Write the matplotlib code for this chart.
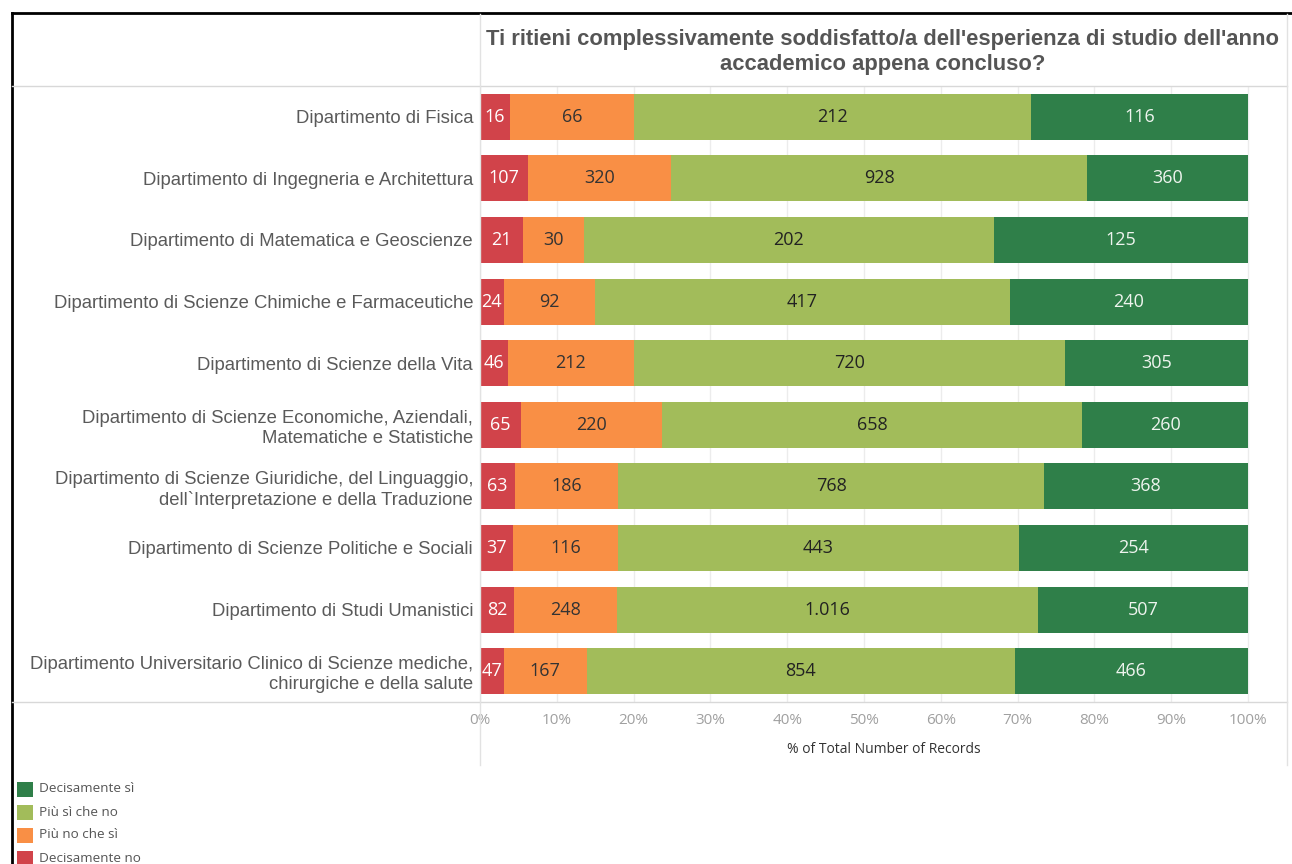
import matplotlib
matplotlib.use('Agg')
import matplotlib.pyplot as plt
from matplotlib.patches import Rectangle
from matplotlib.lines import Line2D
import numpy as np

departments = [
    "Dipartimento di Fisica",
    "Dipartimento di Ingegneria e Architettura",
    "Dipartimento di Matematica e Geoscienze",
    "Dipartimento di Scienze Chimiche e Farmaceutiche",
    "Dipartimento di Scienze della Vita",
    "Dipartimento di Scienze Economiche, Aziendali,\nMatematiche e Statistiche",
    "Dipartimento di Scienze Giuridiche, del Linguaggio,\ndell`Interpretazione e della Traduzione",
    "Dipartimento di Scienze Politiche e Sociali",
    "Dipartimento di Studi Umanistici",
    "Dipartimento Universitario Clinico di Scienze mediche,\nchirurgiche e della salute",
]
decisamente_no = [16, 107, 21, 24, 46, 65, 63, 37, 82, 47]
piu_no_che_si = [66, 320, 30, 92, 212, 220, 186, 116, 248, 167]
piu_si_che_no = [212, 928, 202, 417, 720, 658, 768, 443, 1016, 854]
decisamente_si = [116, 360, 125, 240, 305, 260, 368, 254, 507, 466]

series = [
    ("Decisamente no", decisamente_no, "#d1434a", "white"),
    ("Più no che sì", piu_no_che_si, "#f98f45", "#333333"),
    ("Più sì che no", piu_si_che_no, "#a2bc5a", "#222222"),
    ("Decisamente sì", decisamente_si, "#2f7f49", "#eef4ee"),
]
legend_order = ["Decisamente sì", "Più sì che no", "Più no che sì", "Decisamente no"]
ticks = np.arange(0, 1.01, 0.1)

W, H = 1292, 864
fig = plt.figure(figsize=(W / 100, H / 100), dpi=100)
fig.patch.set_facecolor("white")

def fx(px):
    return px / W

def fy(py):
    return 1 - py / H

ax = fig.add_axes([fx(480), fy(702), fx(1287) - fx(480), fy(86) - fy(702)])
ax.set_facecolor("white")

totals = np.sum([s[1] for s in series], axis=0)
n = len(departments)
y = np.arange(n)
left = np.zeros(n)
for name, vals, col, tcol in series:
    frac = np.array(vals) / totals
    ax.barh(y, frac, left=left, height=0.75, color=col, zorder=3)
    for i in range(n):
        lab = f"{vals[i]:,}".replace(",", ".")
        ax.text(left[i] + frac[i] / 2, y[i], lab, ha="center", va="center",
                fontsize=13, color=tcol, family=["Open Sans", "DejaVu Sans"], zorder=4)
    left += frac

ax.set_ylim(n - 0.5, -0.5)
ax.set_xlim(0, 807 / 768)
ax.set_xticks(ticks)
ax.set_xticklabels([f"{int(round(t * 100))}%" for t in ticks], fontsize=11,
                   color="#a0a0a0", family="Open Sans")
ax.tick_params(axis="x", length=0, pad=8)
ax.set_yticks(y)
ax.set_yticklabels(departments, fontsize=13.3, color="#5a5a5a", family="Liberation Sans",
                   linespacing=1.25)
ax.tick_params(axis="y", length=0, pad=5)
for t in ax.get_yticklabels():
    t.set_horizontalalignment("right")
    t.set_multialignment("right")
ax.grid(axis="x", color="#ececec", lw=1, zorder=0)
for s in ax.spines.values():
    s.set_visible(False)
ax.set_xlabel("% of Total Number of Records", fontsize=10, color="#333333",
              family="Open Sans", labelpad=10)

# frame lines
fig.add_artist(Line2D([fx(12), 1], [fy(13), fy(13)], color="black", lw=2))
fig.add_artist(Line2D([fx(12), fx(12)], [fy(13), 0], color="black", lw=2))
fig.add_artist(Line2D([fx(12), fx(1287)], [fy(86), fy(86)], color="#d8d8d8", lw=1))
fig.add_artist(Line2D([fx(12), fx(1287)], [fy(702), fy(702)], color="#d8d8d8", lw=1))
fig.add_artist(Line2D([fx(480), fx(480)], [fy(14), fy(765)], color="#e2e2e2", lw=1))
fig.add_artist(Line2D([fx(1287), fx(1287)], [fy(14), fy(765)], color="#e2e2e2", lw=1))

fig.text(fx(883), fy(52), "Ti ritieni complessivamente soddisfatto/a dell'esperienza di studio dell'anno\naccademico appena concluso?",
         ha="center", va="center", fontsize=15.8, fontweight="bold", color="#555555",
         family="Liberation Sans", linespacing=1.2)

# legend
colors = {s[0]: s[2] for s in series}
for k, name in enumerate(legend_order):
    yc = 789 + k * 23
    fig.add_artist(Rectangle((fx(17), fy(yc + 8)), fx(16), fy(yc - 7) - fy(yc + 8),
                             facecolor=colors[name], edgecolor="none"))
    fig.text(fx(39), fy(yc), name, ha="left", va="center", fontsize=9.7,
             color="#555555", family="Open Sans")

fig.savefig("out.png", dpi=100)
